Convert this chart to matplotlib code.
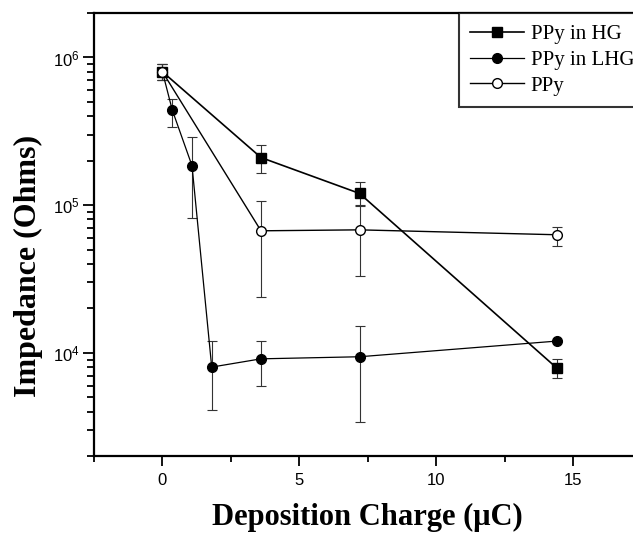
import matplotlib
matplotlib.use("Agg")
import matplotlib.pyplot as plt
from matplotlib.ticker import LogLocator, MultipleLocator, NullFormatter
import numpy as np

plt.rcParams['font.family'] = ['Liberation Sans', 'DejaVu Sans']
plt.rcParams['mathtext.fontset'] = 'custom'
plt.rcParams['mathtext.rm'] = 'Liberation Sans'
plt.rcParams['mathtext.it'] = 'Liberation Sans:italic'

# data (charge in uC, impedance in Ohms)
hg_x = [0, 3.6, 7.2, 14.4]
hg_y = [8.0e5, 2.1e5, 1.2e5, 7.9e3]
hg_lo = [7.0e5, 1.65e5, 9.8e4, 6.7e3]
hg_hi = [9.1e5, 2.55e5, 1.43e5, 9.1e3]

lhg_x = [0, 0.36, 1.08, 1.8, 3.6, 7.2, 14.4]
lhg_y = [8.0e5, 4.4e5, 1.85e5, 8.0e3, 9.1e3, 9.4e3, 1.2e4]
lhg_lo = [7.0e5, 3.4e5, 8.2e4, 4.1e3, 6.0e3, 3.4e3, 1.2e4]
lhg_hi = [9.1e5, 5.2e5, 2.9e5, 1.2e4, 1.2e4, 1.52e4, 1.2e4]

ppy_x = [0, 3.6, 7.2, 14.4]
ppy_y = [8.0e5, 6.7e4, 6.8e4, 6.3e4]
ppy_lo = [7.0e5, 2.4e4, 3.3e4, 5.3e4]
ppy_hi = [9.1e5, 1.07e5, 1.0e5, 7.1e4]

labels = ['PPy in HG', 'PPy in LHG', 'PPy']

W, H = 633, 533
fig = plt.figure(figsize=(W / 100, H / 100), dpi=100)
ax = fig.add_axes([94 / W, (H - 456) / H, (641.5 - 94) / W, (456 - 13) / H])


def series(x, y, lo, hi, marker, face, label, lw):
    y = np.array(y)
    err = [y - np.array(lo), np.array(hi) - y]
    ax.errorbar(x, y, yerr=err, fmt='none', ecolor='#333333', elinewidth=0.8,
                capsize=3.5, capthick=0.8, zorder=2)
    ax.plot(x, y, color='black', lw=lw, marker=marker, ms=7, mfc=face,
            mec='black', mew=1.0, label=label, zorder=3)


series(hg_x, hg_y, hg_lo, hg_hi, 's', 'black', labels[0], 1.2)
series(lhg_x, lhg_y, lhg_lo, lhg_hi, 'o', 'black', labels[1], 0.9)
series(ppy_x, ppy_y, ppy_lo, ppy_hi, 'o', 'white', labels[2], 1.0)

ax.set_yscale('log')
ax.set_xlim(-2.5, 17.5)
ax.set_ylim(2e3, 2e6)
ax.xaxis.set_major_locator(MultipleLocator(5))
ax.xaxis.set_minor_locator(MultipleLocator(2.5))
ax.yaxis.set_major_locator(LogLocator(base=10, numticks=10))
ax.yaxis.set_minor_locator(LogLocator(base=10, subs=np.arange(2, 10), numticks=10))
ax.yaxis.set_minor_formatter(NullFormatter())

for s in ax.spines.values():
    s.set_linewidth(1.6)
ax.tick_params(axis='x', which='major', direction='out', length=7, width=1.3,
               labelsize=12, pad=5)
ax.tick_params(axis='x', which='minor', direction='out', length=4, width=1.3)
ax.tick_params(axis='y', which='major', direction='out', length=8, width=1.3,
               labelsize=12, pad=2)
ax.tick_params(axis='y', which='minor', direction='out', length=5, width=1.3)

ax.set_xlabel('Deposition Charge (\u03bcC)', family='Liberation Serif',
              fontweight='bold', fontsize=22, labelpad=11)
ax.set_ylabel('Impedance (Ohms)', family='Liberation Serif',
              fontweight='bold', fontsize=23)
ax.yaxis.set_label_coords(-0.093, 0.43)

leg = ax.legend(loc='upper right', bbox_to_anchor=(1.02, 1 - 13 / H),
                bbox_transform=fig.transFigure, prop={'family': 'Liberation Serif', 'size': 15},
                frameon=True, fancybox=False, edgecolor='black', handlelength=2.6,
                labelspacing=0.3, borderpad=0.55, handletextpad=0.3, borderaxespad=0)
leg.get_frame().set_linewidth(1.5)

fig.savefig('out.png', dpi=100)
